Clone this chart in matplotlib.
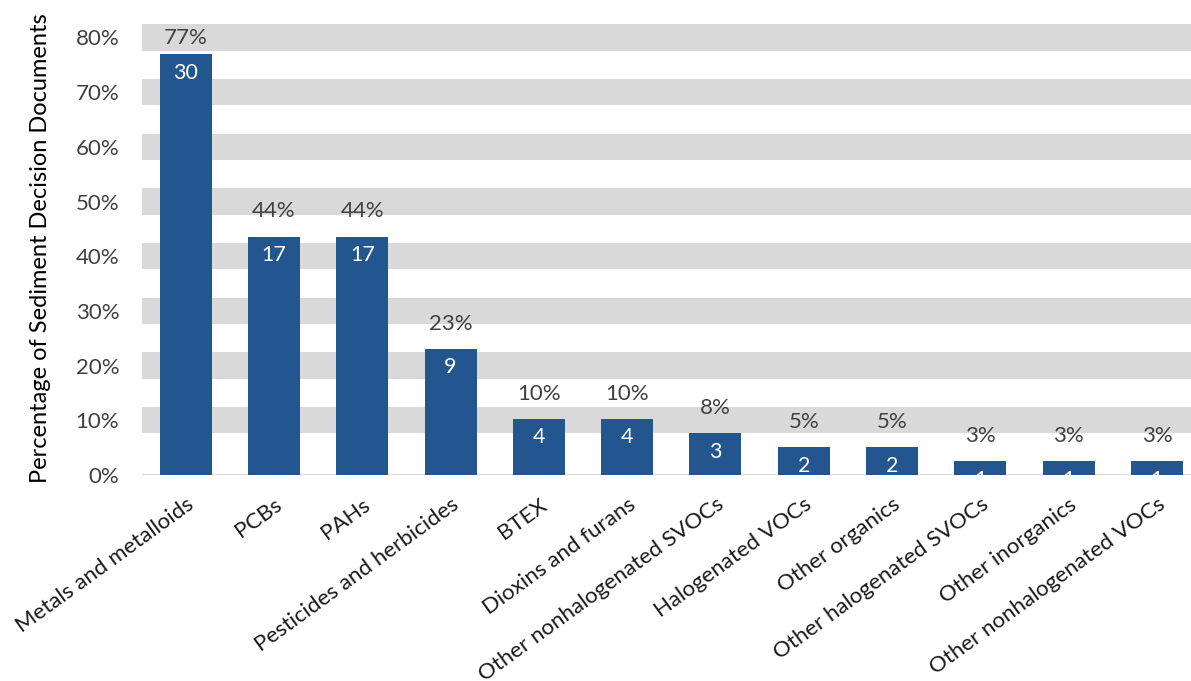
import matplotlib
matplotlib.use("Agg")
import matplotlib.pyplot as plt
from matplotlib.ticker import PercentFormatter

categories = [
    "Metals and metalloids", "PCBs", "PAHs", "Pesticides and herbicides",
    "BTEX", "Dioxins and furans", "Other nonhalogenated SVOCs",
    "Halogenated VOCs", "Other organics", "Other halogenated SVOCs",
    "Other inorganics", "Other nonhalogenated VOCs",
]
counts = [30, 17, 17, 9, 4, 4, 3, 2, 2, 1, 1, 1]
total_documents = 39
percents = [c / total_documents for c in counts]
y_ticks = [0.0, 0.1, 0.2, 0.3, 0.4, 0.5, 0.6, 0.7, 0.8]

bar_color = "#23558f"
band_color = "#d9d9d9"
text_color = "#404040"
font = ["Lato", "DejaVu Sans"]

plt.rcParams["font.family"] = font

fig = plt.figure(figsize=(11.91, 6.81), dpi=100)
ax = fig.add_axes([141.5 / 1191, 1 - 475 / 681, 1 - 141.5 / 1191, (475 - 21) / 681])

x = list(range(len(categories)))
ax.set_xlim(-0.5, -0.5 + (1191 - 141.5) / 88.3)
ax.set_ylim(0, 0.83)

# wide horizontal bands behind each gridline
for t in y_ticks[1:]:
    ax.axhspan(t - 0.024, t + 0.024, color=band_color, lw=0, zorder=0)
ax.axhline(0, color=band_color, lw=1.5, zorder=1)

ax.bar(x, percents, width=0.59, color=bar_color, zorder=2)

for xi, p, c in zip(x, percents, counts):
    ax.text(xi, min(p + 0.046, 0.799), f"{round(p * 100):d}%", ha="center",
            va="center", fontsize=16, color=text_color, zorder=3)
    ax.text(xi, p - 0.034, f"{c}", ha="center", va="center", fontsize=15.5,
            color="white", zorder=3)

ax.set_yticks(y_ticks)
ax.yaxis.set_major_formatter(PercentFormatter(1.0, decimals=0))
ax.tick_params(axis="y", length=0, pad=16, labelsize=16, labelcolor=text_color)
ax.set_xticks(x)
ax.set_xticklabels(categories, rotation=36, ha="right", rotation_mode="anchor",
                   fontsize=16, color="#1a1a1a")
ax.tick_params(axis="x", length=0, pad=14)

for s in ax.spines.values():
    s.set_visible(False)

ax.set_ylabel("Percentage of Sediment Decision Documents", fontsize=17,
              color="black")
ax.yaxis.set_label_coords(-0.086, 0.5)

fig.savefig("out.png", dpi=100)
